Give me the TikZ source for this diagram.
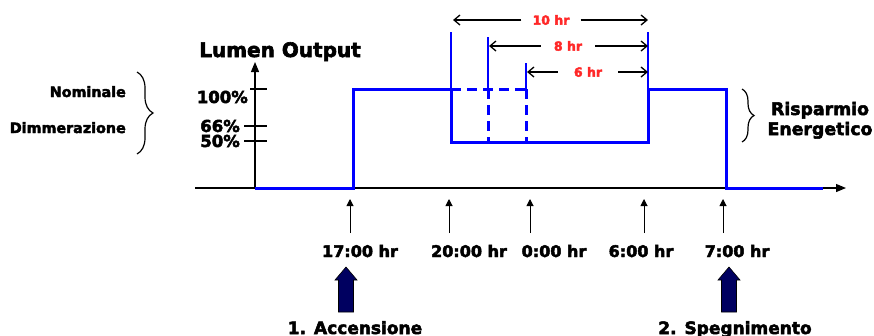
\documentclass[tikz,border=0pt]{standalone}
\usepackage{fontspec}
\setmainfont{DejaVu Sans}[BoldFeatures={FakeBold=3}]
\usetikzlibrary{arrows.meta,decorations.pathreplacing}
\definecolor{navyarrow}{RGB}{0,0,96}
\definecolor{pureblue}{RGB}{0,0,255}
\definecolor{dimred}{RGB}{255,40,40}
\tikzset{
  txt/.style={font=\bfseries\fontsize{#1}{#1}\selectfont, inner sep=0pt, text=black},
  curve/.style={pureblue, line width=3pt, line join=miter},
  curvedash/.style={pureblue, line width=3pt, dash pattern=on 10pt off 6pt},
  guide/.style={pureblue, line width=1.5pt},
  axis/.style={black, line width=1.2pt},
  dimarrow/.style={black, line width=1.3pt, -{Straight Barb[length=6pt,width=10pt,line width=1.3pt]}},
  dimlbl/.style={font=\bfseries\fontsize{12.5}{12.5}\selectfont, text=dimred, fill=white, inner xsep=#1, inner ysep=6pt},
  tickarrow/.style={black, line width=1pt, -{Triangle[length=7pt,width=7pt]}},
  bigarrow/.style={fill=navyarrow, draw=black, line width=0.6pt, line join=miter},
  bracestyle/.style={black, line width=1.2pt, decorate, decoration={brace, amplitude=#1}}
}
\begin{document}
\begin{tikzpicture}[x=1pt,y=-1pt]
\useasboundingbox (0,0) rectangle (874,335);

% axes
\coordinate (xs) at (195,188);
\coordinate (xe) at (846,188);
\coordinate (ys) at (255,188);
\coordinate (ye) at (255,62);
\draw[axis, -{Triangle[length=10pt,width=8pt]}] (xs) -- (xe);
\draw[axis, -{Triangle[length=10pt,width=8pt]}] (ys) -- (ye);

% y ticks
\coordinate (t100a) at (250,89);  \coordinate (t100b) at (267,89);
\coordinate (t66a) at (244,126);  \coordinate (t66b) at (267,126);
\coordinate (t50a) at (244,141);  \coordinate (t50b) at (267,141);
\draw[axis] (t100a) -- (t100b);
\draw[axis] (t66a) -- (t66b);
\draw[axis] (t50a) -- (t50b);

\node[txt=16.5, anchor=base east] (p100) at (248,103) {100\%};
\node[txt=16.5, anchor=base east] (p66) at (240,132) {66\%};
\node[txt=16.5, anchor=base east] (p50) at (240,147) {50\%};

\node[txt=20, anchor=base] (lumen) at (280,57) {Lumen Output};

\node[txt=14.3, anchor=base east] (nom) at (126,97) {Nominale};
\node[txt=14.3, anchor=base east] (dim) at (126,133) {Dimmerazione};

% braces
\coordinate (b1a) at (137,72);
\coordinate (b1b) at (137,154);
\draw[bracestyle=16pt] (b1a) -- (b1b);
\coordinate (b2a) at (742,89);
\coordinate (b2b) at (742,142);
\draw[bracestyle=12pt] (b2a) -- (b2b);

\node[txt=17.3, anchor=base] (risp) at (820,115) {Risparmio};
\node[txt=17.3, anchor=base] (ener) at (820,135) {Energetico};

% guide lines
\coordinate (g1b) at (451,89);  \coordinate (g1t) at (451,32);
\coordinate (g2b) at (488,89);  \coordinate (g2t) at (488,37);
\coordinate (g3b) at (526,89);  \coordinate (g3t) at (526,63);
\coordinate (g4b) at (648,89);  \coordinate (g4t) at (648,32);
\draw[guide] (g1b) -- (g1t);
\draw[guide] (g2b) -- (g2t);
\draw[guide] (g3b) -- (g3t);
\draw[guide] (g4b) -- (g4t);

% blue curve
\coordinate (c0) at (255,188);
\coordinate (c1) at (353,188);
\coordinate (c2) at (353,89);
\coordinate (c3) at (451,89);
\coordinate (c4) at (451,142);
\coordinate (c5) at (648,142);
\coordinate (c6) at (648,89);
\coordinate (c7) at (726,89);
\coordinate (c8) at (726,188);
\coordinate (c9) at (823,188);
\draw[curve] (c0) -- (c1) -- (c2) -- (c3) -- (c4) -- (c5) -- (c6) -- (c7) -- (c8) -- (c9);

% dashed alternatives
\coordinate (d1) at (526,89);
\coordinate (d2a) at (488,89);  \coordinate (d2b) at (488,142);
\coordinate (d3b) at (526,142);
\draw[curvedash] (c3) -- (d1);
\draw[curvedash] (d2a) -- (d2b);
\draw[curvedash] (d1) -- (d3b);

% dimension arrows
\coordinate (a10l) at (453,20);  \coordinate (a10r) at (648,20);
\coordinate (a8l) at (489,46);   \coordinate (a8r) at (648,46);
\coordinate (a6l) at (527,72);   \coordinate (a6r) at (648,72);
\node[dimlbl=11pt] (l10) at (551,20) {10 hr};
\node[dimlbl=13pt] (l8) at (568,46) {8 hr};
\node[dimlbl=16pt] (l6) at (588,72) {6 hr};
\draw[dimarrow] (l10.west) -- (a10l);
\draw[dimarrow] (l10.east) -- (a10r);
\draw[dimarrow] (l8.west) -- (a8l);
\draw[dimarrow] (l8.east) -- (a8r);
\draw[dimarrow] (l6.west) -- (a6l);
\draw[dimarrow] (l6.east) -- (a6r);

% time labels
\node[txt=16, anchor=base] (h17) at (360,257) {17:00 hr};
\node[txt=16, anchor=base] (h20) at (469,257) {20:00 hr};
\node[txt=16, anchor=base] (h0) at (554,257) {0:00 hr};
\node[txt=16, anchor=base] (h6) at (641,257) {6:00 hr};
\node[txt=16, anchor=base] (h7) at (737,257) {7:00 hr};

\coordinate (s17a) at (350,233); \coordinate (s17b) at (350,199);
\coordinate (s20a) at (449,233); \coordinate (s20b) at (449,199);
\coordinate (s0a) at (530,233);  \coordinate (s0b) at (530,199);
\coordinate (s6a) at (644,233);  \coordinate (s6b) at (644,199);
\coordinate (s7a) at (723,233);  \coordinate (s7b) at (723,199);
\draw[tickarrow] (s17a) -- (s17b);
\draw[tickarrow] (s20a) -- (s20b);
\draw[tickarrow] (s0a) -- (s0b);
\draw[tickarrow] (s6a) -- (s6b);
\draw[tickarrow] (s7a) -- (s7b);

% big arrows
\draw[bigarrow] (338.5,312) -- (338.5,280) -- (335,280) -- (346,267) -- (357,280) -- (353.5,280) -- (353.5,312) -- cycle;
\draw[bigarrow] (721.5,312) -- (721.5,280) -- (718,280) -- (729,267) -- (740,280) -- (736.5,280) -- (736.5,312) -- cycle;

\node[txt=17, anchor=base] (acc) at (355,334) {1. Accensione};
\node[txt=17, anchor=base] (speg) at (735,334) {2. Spegnimento};
\end{tikzpicture}
\end{document}
